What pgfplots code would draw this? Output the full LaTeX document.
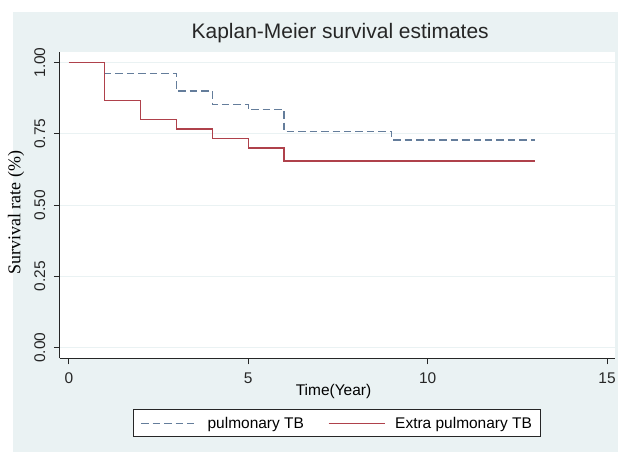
\documentclass[border=0pt]{standalone}
\usepackage{pgfplots}
\pgfplotsset{compat=1.18}
\usepackage{fontspec}
\setmainfont{Liberation Sans}
\newfontfamily\seriffont{Liberation Serif}

\definecolor{statabg}{RGB}{234,242,243}
\definecolor{kmred}{RGB}{175,65,75}
\definecolor{kmblue}{RGB}{100,125,155}

\pgfplotstableread{
t s
0 1.000
1 0.962
3 0.900
4 0.852
5 0.834
6 0.757
9 0.728
13 0.728
}\pulmonary

\pgfplotstableread{
t s
0 1.000
1 0.867
2 0.800
3 0.767
4 0.733
5 0.700
6 0.655
13 0.655
}\extrapulm

\begin{document}
\begin{tikzpicture}
\fill[white] (0pt,0pt) rectangle (619pt,453pt);
\fill[statabg] (13pt,0pt) rectangle (619pt,441pt);
\begin{axis}[
  at={(60pt,94pt)}, anchor=south west,
  scale only axis, width=556pt, height=307pt,
  xmin=-0.25, xmax=15.22, ymin=-0.038, ymax=1.037,
  axis x line*=bottom, axis y line*=left,
  axis line style={-, black!85, line width=1.2pt},
  axis background/.style={fill=white},
  xtick={0,5,10,15}, ytick={0,0.25,0.5,0.75,1},
  tick align=outside, major tick length=6pt,
  tick style={black!85, line width=1pt},
  ymajorgrids, grid style={draw=statabg, line width=1pt},
  /pgf/number format/assume math mode=true,
  ticklabel style={font=\fontsize{15.5}{18}\selectfont, text=black!85},
  xticklabel shift=5pt,
  yticklabel shift=5pt,
  yticklabel style={rotate=90, anchor=south, /pgf/number format/fixed,
    /pgf/number format/fixed zerofill, /pgf/number format/precision=2},
  xlabel={Time(Year)},
  xlabel style={at={(axis description cs:0.493,-0.108)}, anchor=center,
    font=\fontsize{15.5}{18}\selectfont},
  ylabel={Survival rate (\%)},
  ylabel style={at={(axis description cs:-0.079,0.476)}, anchor=center,
    rotate=0, font=\seriffont\fontsize{18}{21}\selectfont},
  title={Kaplan-Meier survival estimates},
  title style={at={(axis description cs:0.505,1.042)}, anchor=center,
    font=\fontsize{21}{25}\selectfont, text=black!85},
  legend columns=2,
  legend image code/.code={\draw[#1] (0pt,0pt) -- (56pt,0pt);},
  legend style={at={(0.4995,-0.2117)}, anchor=center, draw=black!85,
    fill=white, line width=1pt, font=\fontsize{15.5}{18}\selectfont,
    inner ysep=5pt, inner xsep=7pt,
    /tikz/every odd column/.append style={column sep=8pt},
    /tikz/every even column/.append style={column sep=22pt}},
]
\addplot[const plot, kmblue, line width=1.4pt, dash pattern=on 7.5pt off 4pt]
  table[x=t, y=s] {\pulmonary};
\addlegendentry{pulmonary TB}
\addplot[const plot, kmred, line width=1.4pt]
  table[x=t, y=s] {\extrapulm};
\addlegendentry{Extra pulmonary TB}
\end{axis}
\end{tikzpicture}
\end{document}
